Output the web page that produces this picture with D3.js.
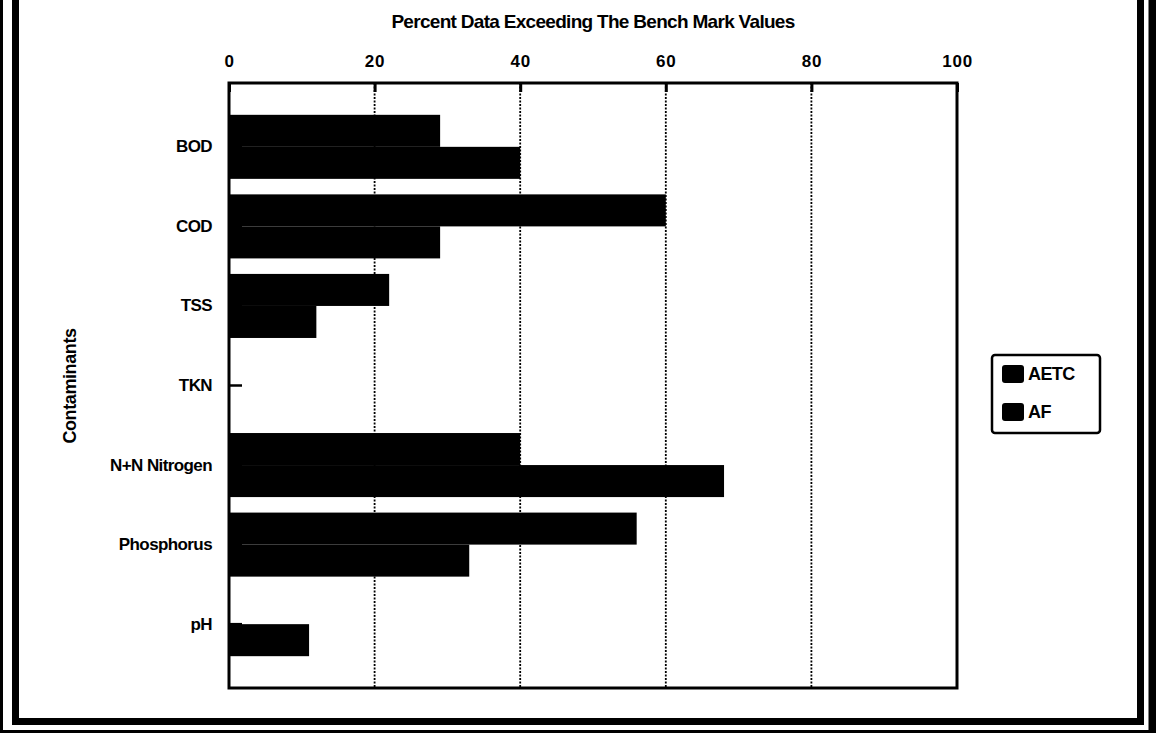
<!DOCTYPE html>
<html>
<head>
<meta charset="utf-8">
<script src="https://cdn.jsdelivr.net/npm/d3@7"></script>
<style>
  html, body { margin: 0; padding: 0; background: #fff; }
  svg { display: block; font-family: "Liberation Sans", Arial, sans-serif; }
</style>
</head>
<body>
<svg id="chart"></svg>
<script>
// values (percent of data exceeding bench mark)
const contaminants = ["BOD", "COD", "TSS", "TKN", "N+N Nitrogen", "Phosphorus", "pH"];
const aetcValues = [29, 60, 22, 0, 40, 56, 0];
const afValues = [40, 29, 12, 0, 68, 33, 11];
const seriesNames = ["AETC", "AF"];
const xTicks = [0, 20, 40, 60, 80, 100];
const gridTicks = [20, 40, 60, 80];

const width = 1156;
const height = 733;
const margin = { top: 83, right: 199, bottom: 45, left: 229 };

const svg = d3.select("#chart")
    .attr("width", width)
    .attr("height", height)
    .attr("viewBox", [0, 0, width, height]);

// outer double frame (no top edge visible in the original)
svg.append("rect")
    .attr("x", 1.5).attr("y", -10)
    .attr("width", width - 3).attr("height", height - 1.5 + 10)
    .attr("fill", "none").attr("stroke", "#000").attr("stroke-width", 3);
svg.append("line")
    .attr("x1", width - 4).attr("x2", width - 4)
    .attr("y1", 0).attr("y2", height)
    .attr("stroke", "#000").attr("stroke-width", 7);
svg.append("rect")
    .attr("x", 15.5).attr("y", -10)
    .attr("width", width - 15.5 - 15.5).attr("height", 721.5 + 10)
    .attr("fill", "none").attr("stroke", "#000").attr("stroke-width", 7);

const x = d3.scaleLinear()
    .domain([0, 100])
    .range([margin.left, width - margin.right]);

const y = d3.scaleBand()
    .domain(contaminants)
    .range([margin.top, height - margin.bottom])
    .paddingInner(0.195)
    .paddingOuter(0.4);

const ySub = d3.scaleBand()
    .domain(seriesNames)
    .range([0, y.bandwidth()]);

// title
svg.append("text")
    .attr("x", (x(0) + x(100)) / 2)
    .attr("y", 28)
    .attr("text-anchor", "middle")
    .attr("font-size", 19)
    .attr("font-weight", "bold")
    .attr("letter-spacing", -0.7)
    .text("Percent Data Exceeding The Bench Mark Values");

// dotted grid lines
svg.append("g")
    .selectAll("line")
    .data(gridTicks)
    .join("line")
    .attr("x1", d => x(d)).attr("x2", d => x(d))
    .attr("y1", margin.top).attr("y2", height - margin.bottom)
    .attr("stroke", "#000")
    .attr("stroke-width", 1.8)
    .attr("stroke-dasharray", "2,1.5");

// bars
const group = svg.append("g")
    .selectAll("g")
    .data(contaminants.map((c, i) => ({ c, vals: [aetcValues[i], afValues[i]] })))
    .join("g")
    .attr("transform", d => `translate(0,${y(d.c)})`);

group.selectAll("rect")
    .data(d => d.vals.map((v, j) => ({ key: seriesNames[j], v })))
    .join("rect")
    .attr("x", x(0))
    .attr("y", d => ySub(d.key))
    .attr("width", d => x(d.v) - x(0))
    .attr("height", ySub.bandwidth())
    .attr("fill", "#000");

// top axis
svg.append("g")
    .attr("transform", `translate(0,${margin.top})`)
    .call(d3.axisTop(x).tickValues(xTicks).tickSize(-9).tickPadding(16))
    .call(g => g.select(".domain").remove())
    .call(g => g.selectAll(".tick line").attr("stroke-width", 3))
    .call(g => g.selectAll(".tick text")
        .attr("font-size", 17)
        .attr("font-weight", "bold")
        .attr("letter-spacing", 0.8)
        .attr("font-family", "Liberation Sans, Arial, sans-serif"));

// left category axis
svg.append("g")
    .attr("transform", `translate(${margin.left},0)`)
    .call(d3.axisLeft(y).tickSize(-13).tickPadding(17))
    .call(g => g.select(".domain").remove())
    .call(g => g.selectAll(".tick line").attr("stroke-width", 2.5))
    .call(g => g.selectAll(".tick text")
        .attr("font-size", 17)
        .attr("font-weight", "bold")
        .attr("letter-spacing", -0.6)
        .attr("font-family", "Liberation Sans, Arial, sans-serif"));

// plot frame
svg.append("rect")
    .attr("x", x(0)).attr("y", margin.top)
    .attr("width", x(100) - x(0))
    .attr("height", height - margin.bottom - margin.top)
    .attr("fill", "none")
    .attr("stroke", "#000")
    .attr("stroke-width", 3);

// y title
svg.append("text")
    .attr("transform", `translate(76,386) rotate(-90)`)
    .attr("text-anchor", "middle")
    .attr("font-size", 18)
    .attr("font-weight", "bold")
    .attr("letter-spacing", -0.4)
    .text("Contaminants");

// legend
const legend = svg.append("g").attr("transform", "translate(992,355)");
legend.append("rect")
    .attr("width", 108).attr("height", 78)
    .attr("rx", 3)
    .attr("fill", "#fff")
    .attr("stroke", "#000")
    .attr("stroke-width", 2.5);
const item = legend.selectAll("g.item")
    .data(seriesNames)
    .join("g")
    .attr("class", "item")
    .attr("transform", (d, i) => `translate(10,${19 + i * 38})`);
item.append("rect")
    .attr("y", -9).attr("width", 22).attr("height", 18)
    .attr("rx", 3)
    .attr("fill", "#000");
item.append("text")
    .attr("x", 26).attr("dy", "0.36em")
    .attr("font-size", 18)
    .attr("font-weight", "bold")
    .attr("letter-spacing", -0.6)
    .text(d => d);
</script>
</body>
</html>
